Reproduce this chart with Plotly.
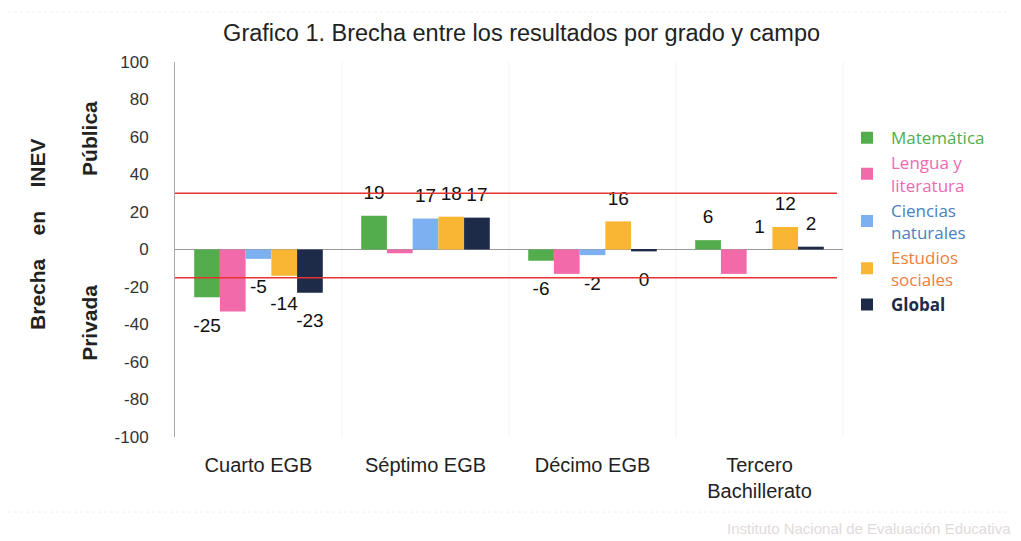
import plotly.graph_objects as go

categories = ["Cuarto EGB", "Séptimo EGB", "Décimo EGB", "Tercero<br>Bachillerato"]

series_names = ["Matemática", "Lengua y<br>literatura", "Ciencias<br>naturales", "Estudios<br>sociales", "<b>Global</b>"]
matematica = [-25.5, 18, -6, 5]
lengua = [-33, -2, -13, -13]
ciencias = [-5, 16.5, -3, 0]
estudios = [-14, 17.5, 15, 12]
global_ = [-23, 17, -1, 1.5]

lbl_matematica = ["-25", "19", "-6", "6"]
lbl_lengua = ["", "", "", ""]
lbl_ciencias = ["-5", "17", "-2", "1"]
lbl_estudios = ["-14", "18", "16", "12"]
lbl_global = ["-23", "17", "0", "2"]

y_ticks = [100, 80, 60, 40, 20, 0, -20, -40, -60, -80, -100]
y_ticktext = ["100", "80", "60", "40", "20", "0", "-20", "-40", "-60", "-80", "-100"]

ref_lines = [30, -15]

bar_colors = ["#54ad4c", "#f26aa9", "#7cb0f0", "#f9b632", "#1d2a48"]
text_colors = ["#4caf50", "#f06aaf", "#4a7fc2", "#ee8040", "#1d2a48"]

values = [matematica, lengua, ciencias, estudios, global_]
labels = [lbl_matematica, lbl_lengua, lbl_ciencias, lbl_estudios, lbl_global]

FONT = "Liberation Sans, Arial, sans-serif"


def padded(vals, lbls):
    out = []
    for v, l in zip(vals, lbls):
        if not l:
            out.append("")
        elif v >= 0:
            out.append(f"<span style='font-size:19px'>{l}</span><br> ")
        else:
            out.append(f" <br> <br><span style='font-size:19px'>{l}</span>")
    return out


fig = go.Figure()
for name, vals, lbls, bc, tc in zip(series_names, values, labels, bar_colors, text_colors):
    fig.add_trace(go.Bar(
        x=categories, y=vals, name=f'<span style="color:{tc}">{name}</span>',
        marker=dict(color=bc, line=dict(width=0)),
        text=padded(vals, lbls), textposition="outside", constraintext="none",
        cliponaxis=False,
        textfont=dict(family=FONT, size=9, color="#111111"),
    ))

for v in ref_lines:
    fig.add_shape(type="line", xref="paper", yref="y", x0=0, x1=0.991, y0=v, y1=v,
                  line=dict(color="#e8332f", width=1.5), layer="above")

for xp in [0.25, 0.5, 0.75, 1.0]:
    fig.add_shape(type="line", xref="paper", yref="paper", x0=xp, x1=xp, y0=0, y1=1,
                  line=dict(color="#f3f3f3", width=1), layer="below")

for yp in [1.133, -0.2]:
    fig.add_shape(type="line", xref="paper", yref="paper", x0=-0.25, x1=1.25, y0=yp, y1=yp,
                  line=dict(color="#f0f0f0", width=1, dash="dot"), layer="below")

fig.update_layout(
    width=1013, height=533,
    margin=dict(l=167, r=178, t=54, b=104),
    paper_bgcolor="white", plot_bgcolor="white",
    barmode="group", bargap=0.23, bargroupgap=0,
    title=dict(text="Grafico 1. Brecha entre los resultados por grado y campo",
               x=0.507, xanchor="center", y=0.953, yanchor="middle",
               font=dict(family=FONT, size=23.5, color="#222222")),
    font=dict(family=FONT, size=16, color="#333333"),
    xaxis=dict(showgrid=False, showline=False, ticks="", tickfont=dict(size=20, color="#222222"),
               ticklabelstandoff=14, fixedrange=True),
    yaxis=dict(range=[-100, 100], tickvals=y_ticks, ticktext=y_ticktext, showgrid=False,
               showline=True, linecolor="#aaaaaa",
               linewidth=1, zeroline=True, zerolinecolor="#999999", zerolinewidth=1,
               ticks="", tickfont=dict(size=17, color="#333333"), ticklabelstandoff=22),
    legend=dict(x=1.0, y=0.845, xanchor="left", yanchor="top",
                font=dict(family="Open Sans, sans-serif", size=17),
                tracegroupgap=0, itemwidth=38, bgcolor="rgba(0,0,0,0)"),
    showlegend=True,
)

fig.add_annotation(text="<b>Brecha    en    INEV</b>", textangle=-90, xref="paper", yref="paper",
                   x=-0.205, y=0.539, xanchor="center", yanchor="middle", showarrow=False,
                   font=dict(family=FONT, size=21, color="#222222"))
fig.add_annotation(text="<b>Pública</b>", textangle=-90, xref="paper", yref="paper",
                   x=-0.129, y=0.797, xanchor="center", yanchor="middle", showarrow=False,
                   font=dict(family=FONT, size=21, color="#222222"))
fig.add_annotation(text="<b>Privada</b>", textangle=-90, xref="paper", yref="paper",
                   x=-0.129, y=0.304, xanchor="center", yanchor="middle", showarrow=False,
                   font=dict(family=FONT, size=21, color="#222222"))
fig.add_annotation(text="Instituto Nacional de Evaluación Educativa", xref="paper", yref="paper",
                   x=1.254, y=-0.243, xanchor="right", yanchor="middle", showarrow=False,
                   font=dict(family=FONT, size=15, color="#e2dada"))

fig.write_html("out.html")
